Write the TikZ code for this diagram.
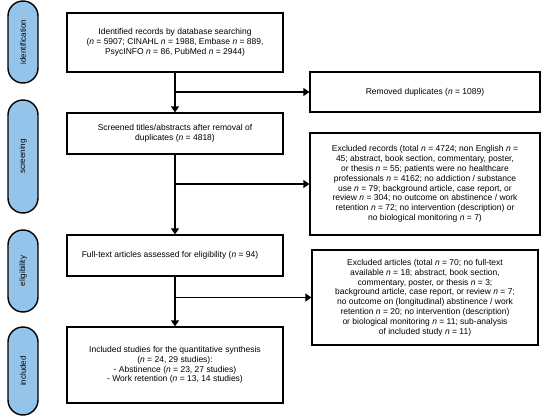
\documentclass[tikz,border=0pt]{standalone}
\usepackage{fontspec}
\setmainfont{Liberation Sans}
\usetikzlibrary{arrows.meta}
\definecolor{phase}{RGB}{148,196,234}

\begin{document}
\begin{tikzpicture}[x=1pt, y=-1pt,
	every node/.style={draw, line width=1.2pt, align=center, inner sep=0pt,
		font=\fontsize{8.5}{9.8}\selectfont},
	box/.style={minimum width=216pt},
	side/.style={minimum width=230pt},
	lbl/.style={fill=phase, rounded corners=15pt, rotate=90, minimum height=30pt,
		line width=1.4pt, font=\fontsize{8}{9}\selectfont},
	arr/.style={line width=1.2pt, -{Triangle[length=6pt,width=8pt]}}]
	\useasboundingbox (0,0) rectangle (550,418);
	% phases on the left
	\node[lbl, minimum width=82pt] (s1) at (23,42) {identification};
	\node[lbl, minimum width=113pt] (s2) at (23,156.5) {screening};
	\node[lbl, minimum width=82pt] (s3) at (23,271) {eligibility};
	\node[lbl, minimum width=88pt] (s4) at (23,371) {included};
	% main flow
	\node[box, minimum height=59pt] (n1) at (175,42.5) {Identified records by database searching\\
		(\textit{n} = 5907; CINAHL \textit{n} = 1988, Embase \textit{n} = 889,\\
		PsycINFO \textit{n} = 86, PubMed \textit{n} = 2944)};
	\node[box, minimum height=41pt] (n2) at (175,133.5) {Screened titles/abstracts after removal of\\
		duplicates (\textit{n} = 4818)};
	\node[box, minimum height=41pt] (n3) at (175,255.5) {Full-text articles assessed for eligibility (\textit{n} = 94)\hspace*{10pt}};
	\node[box, minimum height=76pt] (n4) at (175,365) {Included studies for the quantitative synthesis\\
		(\textit{n} = 24, 29 studies):\\
		- Abstinence (\textit{n} = 23, 27 studies)\\
		- Work retention (\textit{n} = 13, 14 studies)};
	% excluded on the right
	\node[side, minimum height=40pt] (n5) at (425,92) {Removed duplicates (\textit{n} = 1089)};
	\node[side, minimum height=102pt] (n6) at (425,184) {Excluded records (total \textit{n} = 4724; non English \textit{n} =\\
		45; abstract, book section, commentary, poster,\\
		or thesis \textit{n} = 55; patients were no healthcare\\
		professionals \textit{n} = 4162; no addiction / substance\\
		use \textit{n} = 79; background article, case report, or\\
		review \textit{n} = 304; no outcome on abstinence / work\\
		retention \textit{n} = 72; no intervention (description) or\\
		no biological monitoring \textit{n} = 7)};
	\node[side, minimum width=226pt, minimum height=95pt] (n7) at (425,297.5) {Excluded articles (total \textit{n} = 70; no full-text\\
		available \textit{n} = 18; abstract, book section,\\
		commentary, poster, or thesis \textit{n} = 3;\\
		background article, case report, or review \textit{n} = 7;\\
		no outcome on (longitudinal) abstinence / work\\
		retention \textit{n} = 20; no intervention (description)\\
		or biological monitoring \textit{n} = 11; sub-analysis\\
		of included study \textit{n} = 11)};
	% connectors
	\draw[arr] (n1) -- (n2);
	\draw[arr] (n2) -- (n3);
	\draw[arr] (n3) -- (n4);
	\draw[arr] (n1.south |- n5.west) -- (n5);
	\draw[arr] (n2.south |- n6.west) -- (n6);
	\draw[arr] (n3.south |- n7.west) -- (n7);
\end{tikzpicture}
\end{document}
